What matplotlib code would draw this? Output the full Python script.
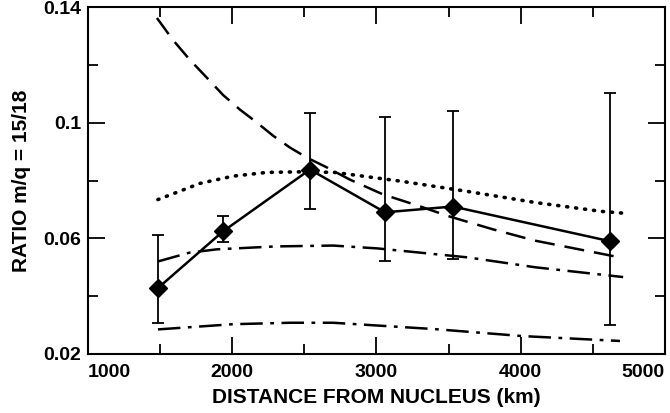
import matplotlib
matplotlib.use("Agg")
import matplotlib.pyplot as plt
from matplotlib.ticker import FixedLocator

plt.rcParams['font.family'] = ['Liberation Sans', 'DejaVu Sans']
plt.rcParams['font.weight'] = 'bold'

# measured ratios with error bars
dist = [1485, 1936, 2539, 3059, 3530, 4619]
ratio = [0.0428, 0.0624, 0.0838, 0.0690, 0.0710, 0.0590]
err_lo = [0.0307, 0.0586, 0.0700, 0.0520, 0.0530, 0.0300]
err_hi = [0.0610, 0.0676, 0.1034, 0.1020, 0.1040, 0.1103]

# model curves
dash_x = [1478, 1589, 1707, 1825, 1936, 2054, 2172, 2283, 2400, 2518, 2657,
          2816, 3045, 3281, 3510, 3808, 4099, 4688]
dash_y = [0.1362, 0.1286, 0.1217, 0.1155, 0.1096, 0.1045, 0.1000, 0.0955, 0.0914,
          0.0879, 0.0845, 0.0803, 0.0752, 0.0714, 0.0675, 0.0631, 0.0592, 0.0534]

dot_x = [1485, 1777, 2005, 2240, 2470, 2712, 3177, 3634, 4099, 4563, 4737]
dot_y = [0.0734, 0.0790, 0.0815, 0.0828, 0.0830, 0.0828, 0.0797, 0.0762, 0.0724, 0.0693, 0.0686]

dd1_x = [1485, 1700, 1894, 2300, 2700, 3010, 3634, 4099, 4710]
dd1_y = [0.0520, 0.0550, 0.0562, 0.0572, 0.0575, 0.0565, 0.0534, 0.0500, 0.0466]

dd2_x = [1485, 2005, 2400, 2700, 3405, 4009, 4688]
dd2_y = [0.0285, 0.0303, 0.0308, 0.0308, 0.0286, 0.0262, 0.0245]

xticks = [1000, 2000, 3000, 4000, 5000]
yticks = [0.02, 0.06, 0.1, 0.14]
ytick_labels = ['0.02', '0.06', '0.1', '0.14']

fig = plt.figure(figsize=(6.7, 4.13), dpi=100)
ax = fig.add_axes([0.1313, 0.1429, 0.8612, 0.8401])

ax.plot(dash_x, dash_y, color='black', lw=1.8, linestyle=(0, (8, 4)))
ax.plot(dot_x, dot_y, color='black', lw=2.6, linestyle=(0, (0.3, 2.2)), dash_capstyle='round')
ax.plot(dd1_x, dd1_y, color='black', lw=1.8, linestyle=(0, (9, 3, 1.5, 3)))
ax.plot(dd2_x, dd2_y, color='black', lw=1.8, linestyle=(0, (9, 3, 1.5, 3)))

yerr = [[r - lo for r, lo in zip(ratio, err_lo)], [hi - r for r, hi in zip(ratio, err_hi)]]
ax.errorbar(dist, ratio, yerr=yerr, fmt='-D', color='black', lw=1.8, ms=9,
            elinewidth=1.3, capsize=4, capthick=1.3)

ax.set_xlim(1000, 5000)
ax.set_ylim(0.02, 0.14)
ax.xaxis.set_major_locator(FixedLocator(xticks))
ax.xaxis.set_minor_locator(FixedLocator([1500, 2500, 3500, 4500]))
ax.yaxis.set_major_locator(FixedLocator(yticks))
ax.yaxis.set_minor_locator(FixedLocator([0.04, 0.08, 0.12]))
ax.set_yticklabels(ytick_labels)
ax.set_xticklabels([str(x) for x in xticks])
labs = ax.get_xticklabels()
labs[0].set_ha('left')
labs[-1].set_ha('right')

ax.tick_params(which='both', direction='in', top=True, right=True, width=1.3, labelsize=14)
ax.tick_params(which='major', length=12)
ax.tick_params(which='minor', length=7)
ax.tick_params(axis='x', pad=7)
ax.tick_params(axis='y', pad=5)
for s in ax.spines.values():
    s.set_linewidth(1.5)

ax.set_xlabel('DISTANCE FROM NUCLEUS (km)', fontsize=15, fontweight='bold', labelpad=5)
ax.set_ylabel('RATIO m/q = 15/18', fontsize=15, fontweight='bold', labelpad=9)

fig.savefig('out.png', dpi=100)
